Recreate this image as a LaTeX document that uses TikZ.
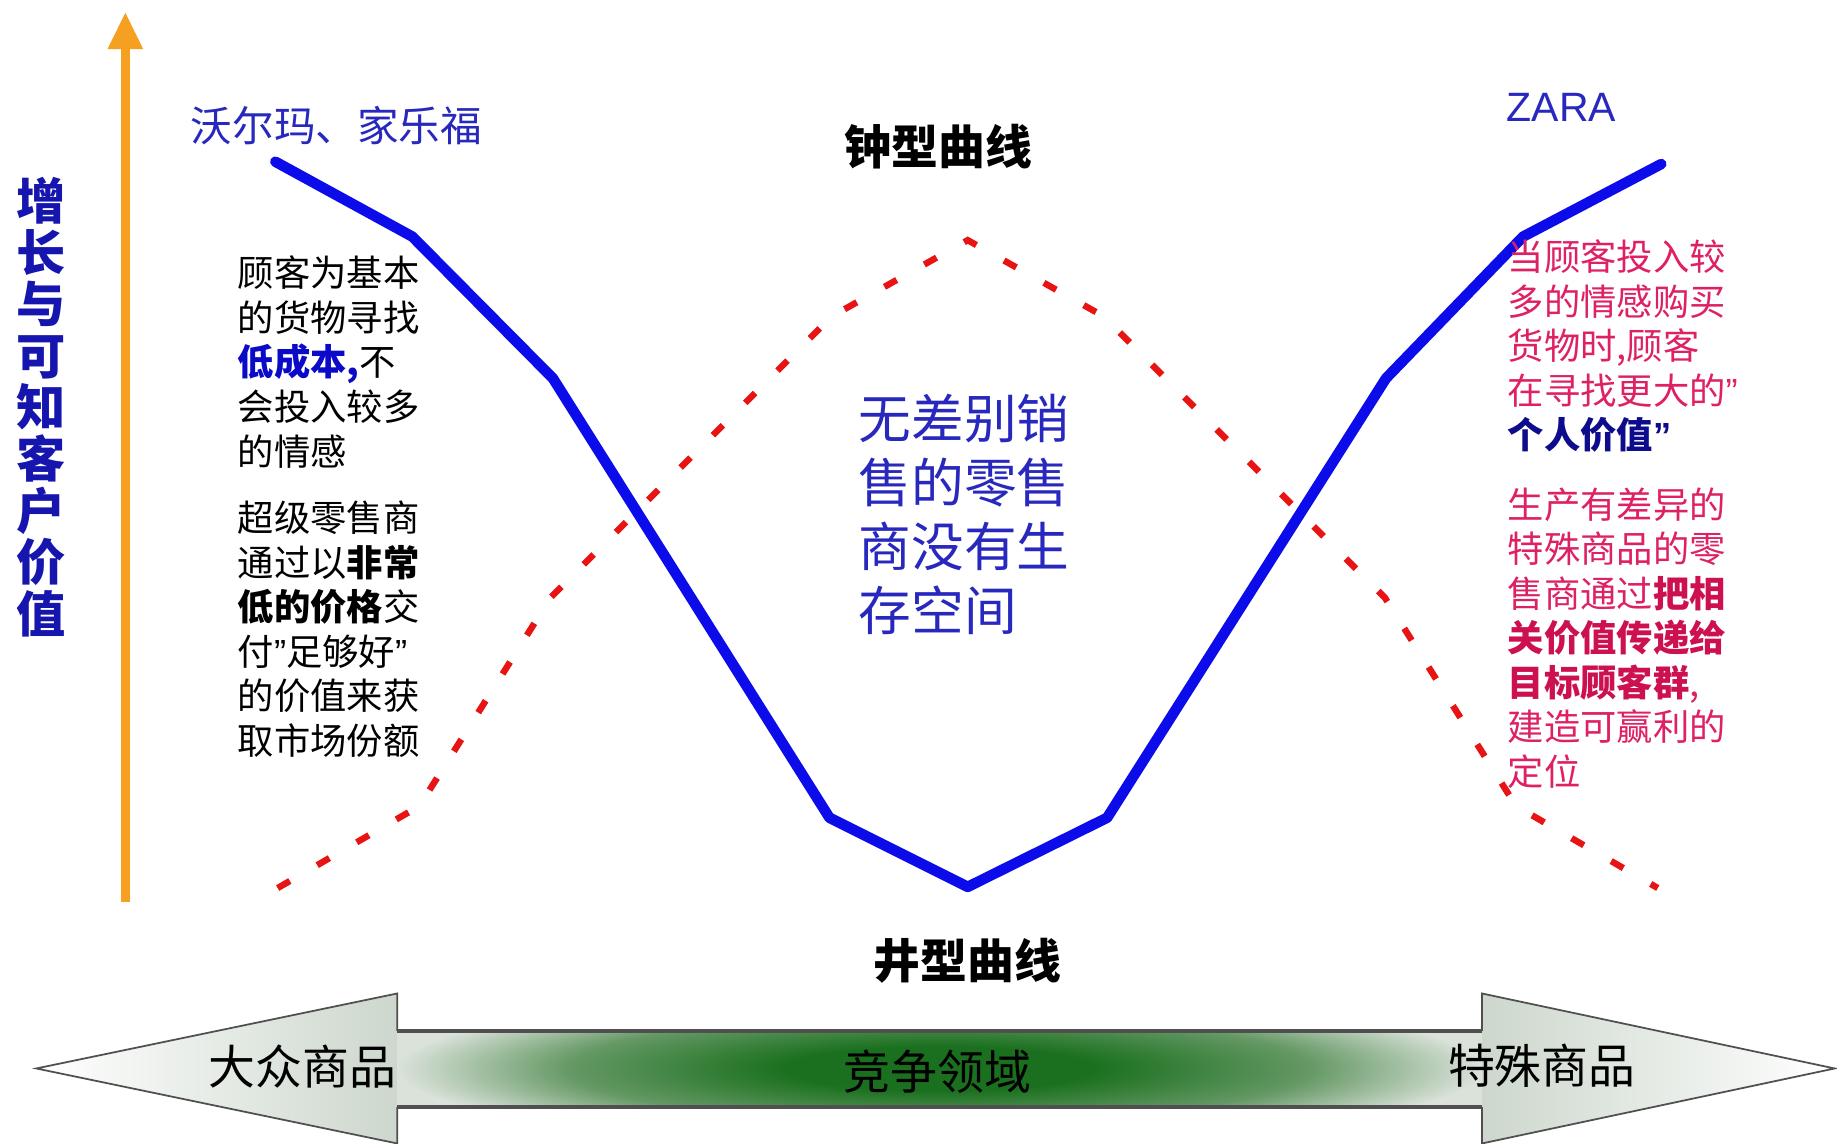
\documentclass[tikz,border=0pt]{standalone}
\usepackage{fontspec}
\setmainfont{Noto Sans CJK SC}
\newfontfamily\latinsans{Liberation Sans}
\usetikzlibrary{arrows.meta}
\definecolor{curveblue}{RGB}{12,12,235}
\definecolor{dashred}{RGB}{232,20,20}
\definecolor{axisorange}{RGB}{245,160,32}
\definecolor{labelblue}{RGB}{40,40,190}
\definecolor{axisblue}{RGB}{22,22,175}
\definecolor{boldblue}{RGB}{10,10,200}
\definecolor{navyblue}{RGB}{12,12,140}
\definecolor{pinktext}{RGB}{222,32,100}
\definecolor{pinkbold}{RGB}{205,16,80}
\definecolor{arrowdark}{RGB}{26,112,30}
\definecolor{arrowmid}{RGB}{100,152,100}
\definecolor{arrowlight}{RGB}{218,226,218}
\definecolor{headgray}{RGB}{205,215,205}
\definecolor{edgegray}{RGB}{80,80,80}
\pgfdeclareradialshading{shaftshade}{\pgfpoint{0bp}{0bp}}{color(0bp)=(arrowdark); color(7bp)=(arrowdark); color(17bp)=(arrowmid); color(25bp)=(arrowlight); color(50bp)=(arrowlight)}
\newcommand{\myquote}{{\latinsans ”}}
\tikzset{
  txt/.style={inner sep=0pt, outer sep=0pt, align=left},
  blocktext/.style={txt, anchor=west, font=\fontsize{31}{38}\selectfont},
  bigtitle/.style={txt, font=\fontsize{40}{44}\selectfont\bfseries},
  bartext/.style={txt, font=\fontsize{40}{44}\selectfont},
  bluecurve/.style={draw=curveblue, line width=9pt, line join=round, line cap=round},
  redcurve/.style={draw=dashred, line width=5.5pt, dash pattern=on 12pt off 27pt},
  headline/.style={draw=edgegray, line width=1.5pt, line join=miter},
  shaftline/.style={draw=edgegray, line width=4pt}
}
\begin{document}
\begin{tikzpicture}[x=1pt,y=-1pt]
\useasboundingbox (0,0) rectangle (1568,976);
\fill[white] (0,0) rectangle (1568,976);

% vertical orange axis
\draw[axisorange, line width=8pt, -{Triangle[width=28pt,length=32pt]}] (107,770) -- (107,10);
\node[txt, align=center, text=axisblue, font=\fontsize{42}{44}\selectfont\bfseries] (axislabel) at (35,347.5)
  {增\\长\\与\\可\\知\\客\\户\\价\\值};

% curves
\draw[redcurve] (237,758) -- (358,688) -- (470,510) -- (710,270) -- (826,205)
  -- (942,270) -- (1182,510) -- (1294,688) -- (1415,758);
\draw[bluecurve] (235,138) -- (352,202) -- (472,323) -- (708,698) -- (826,757)
  -- (945,698) -- (1183,323) -- (1300,202) -- (1418,140);

% titles
\node[txt, anchor=west, text=labelblue, font=\fontsize{35.5}{40}\selectfont] (walmart) at (163,107) {沃尔玛、家乐福};
\node[txt, anchor=west, text=labelblue, font=\fontsize{35}{40}\latinsans] (zara) at (1286,92) {ZARA};
\node[bigtitle] (bell) at (801,125) {钟型曲线};
\node[bigtitle] (well) at (826,820) {井型曲线};

% left blocks
\node[blocktext] (left1) at (203,309)
  {顾客为基本\\的货物寻找\\{\color{boldblue}\bfseries 低成本,}不\\会投入较多\\的情感};
\node[blocktext] (left2) at (203,537)
  {超级零售商\\通过以{\bfseries 非常}\\{\bfseries 低的价格}交\\付\myquote 足够好\myquote\\的价值来获\\取市场份额};

% center block
\node[txt, anchor=west, text=labelblue, font=\fontsize{45}{54.7}\selectfont] (center) at (733,439)
  {无差别销\\售的零售\\商没有生\\存空间};

% right blocks
\node[blocktext, text=pinktext] (right1) at (1287,295.5)
  {当顾客投入较\\多的情感购买\\货物时,顾客\\在寻找更大的\myquote\\{\color{navyblue}\bfseries 个人价值\myquote}};
\node[blocktext, text=pinktext] (right2) at (1287,544.5)
  {生产有差异的\\特殊商品的零\\售商通过{\color{pinkbold}\bfseries 把相}\\{\color{pinkbold}\bfseries 关价值传递给}\\{\color{pinkbold}\bfseries 目标顾客群},\\建造可赢利的\\定位};

% bottom double arrow
\shade[left color=white, right color=headgray] (31,912) -- (339,848) -- (339,976) -- cycle;
\shade[left color=headgray, right color=white] (1566,912) -- (1265,848) -- (1265,976) -- cycle;
\begin{scope}
  \clip (338,880) rectangle (1266,945);
  \shade[shading=shaftshade] (339,845) rectangle (1265,979);
\end{scope}
\draw[headline] (339,880) -- (339,848) -- (31,912) -- (339,976) -- (339,945);
\draw[headline] (1265,880) -- (1265,848) -- (1566,912) -- (1265,976) -- (1265,945);
\draw[shaftline] (339,880) -- (1265,880);
\draw[shaftline] (339,945) -- (1265,945);

\node[bartext] (mass) at (258,910) {大众商品};
\node[bartext] (compete) at (800,915) {竞争领域};
\node[bartext] (special) at (1316,910) {特殊商品};
\end{tikzpicture}
\end{document}
